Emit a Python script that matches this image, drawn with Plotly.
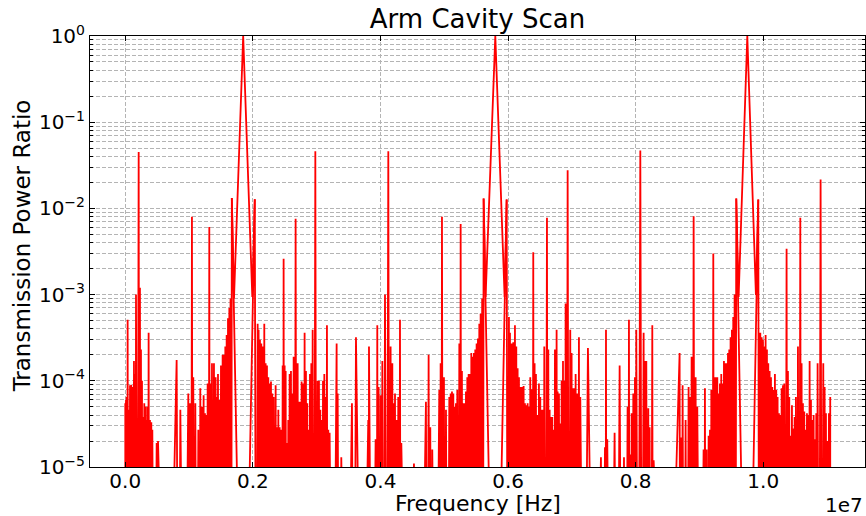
import plotly.graph_objects as go

# ---------------- data ----------------
# Frequencies in MHz, transmitted power ratio (linear)
freq_low_mhz = [
    0.000, 0.011, 0.021, 0.037, 0.053, 0.074, 0.095, 0.115, 0.136, 0.152, 0.168, 0.210,
    0.230, 0.246, 0.262, 0.283, 0.298, 0.314, 0.330, 0.345, 0.366, 0.387, 0.408, 0.424,
    0.492, 0.513,
    0.805, 0.863, 0.988, 1.014, 1.045, 1.066, 1.098, 1.145, 1.176, 1.202, 1.228, 1.249,
    1.270, 1.291, 1.317, 1.333, 1.359, 1.390, 1.416, 1.432, 1.453, 1.479, 1.500, 1.526,
    1.547, 1.568, 1.589, 1.610, 1.631, 1.650, 1.670,
    2.030, 2.075, 2.090, 2.111, 2.132, 2.153, 2.179, 2.200, 2.221, 2.242, 2.263, 2.284,
    2.305, 2.326, 2.357, 2.378, 2.399, 2.420, 2.440, 2.467, 2.482, 2.498, 2.514, 2.534,
    2.555, 2.576, 2.597, 2.618, 2.639, 2.670, 2.702, 2.723, 2.743, 2.764, 2.785, 2.811,
    2.832, 2.853, 2.874, 2.895, 2.916, 2.937, 2.979, 3.015, 3.036, 3.057, 3.078, 3.099,
    3.120, 3.141, 3.161, 3.182, 3.203, 3.313, 3.329, 3.386, 3.553, 3.616, 3.809, 3.820,
    3.924, 3.950, 3.971, 4.003, 4.029, 4.071, 4.123, 4.159, 4.186, 4.207, 4.228, 4.254,
    4.279, 4.306, 4.327,
]
power_low = [
    5.5e-5, 6.0e-5, 6.5e-5, 5.1e-4, 4.6e-5, 8.9e-5, 9.0e-5, 8.5e-5, 1.7e-4, 1.2e-4, 1.0e-3, 4.5e-2,
    1.2e-3, 2.3e-4, 1.0e-4, 3.8e-5, 5.5e-5, 5.0e-5, 3.5e-5, 5.0e-5, 3.6e-4, 3.5e-5, 3.3e-5, 2.7e-5,
    1.9e-5, 2.0e-5,
    1.74e-4, 4.6e-5, 7.1e-5, 5.5e-5, 8.0e-3, 1.1e-4, 5.5e-5, 2.7e-5, 8.2e-5, 5.0e-5, 6.8e-5, 4.2e-5,
    4.0e-5, 9.3e-5, 6.1e-3, 9.3e-5, 1.6e-4, 1.6e-4, 1.1e-4, 6.5e-5, 1.2e-4, 6.0e-5, 1.5e-4, 2.0e-4,
    2.0e-4, 2.5e-4, 3.4e-4, 5.3e-4, 7.0e-4, 9.0e-4, 1.32e-2,
    1.28e-2, 4.6e-4, 3.9e-4, 3.0e-4, 2.7e-4, 2.5e-4, 4.6e-4, 1.6e-4, 1.5e-4, 1.1e-4, 9.3e-5, 9.8e-5,
    7.1e-5, 6.5e-5, 8.9e-5, 2.9e-5, 4.6e-5, 2.9e-5, 2.7e-5, 1.5e-4, 2.6e-3, 1.5e-4, 1.3e-4, 1.9e-5,
    3.5e-5, 1.2e-4, 1.3e-4, 7.1e-5, 1.9e-4, 7.6e-3, 1.6e-4, 5.7e-5, 5.7e-5, 9.8e-5, 9.3e-5, 3.6e-4,
    1.3e-4, 5.5e-5, 2.7e-5, 1.2e-4, 1.6e-4, 3.9e-4, 4.6e-2, 1.0e-4, 1.0e-4, 4.6e-5, 3.5e-5, 1.0e-4,
    1.2e-4, 6.5e-5, 4.4e-4, 2.7e-5, 2.5e-5, 2.7e-4, 7.1e-5, 1.3e-5, 5.5e-5, 3.2e-4, 3.5e-5, 2.5e-4,
    2.1e-5, 4.4e-4, 8.5e-5, 6.8e-5, 1.7e-4, 1.0e-3, 4.6e-2, 2.5e-4, 1.6e-4, 5.5e-5, 7.1e-5, 3.5e-5,
    6.5e-5, 5.1e-4, 1.9e-5,
]

freq_mid_mhz = [
    4.525, 4.713, 4.755, 4.781, 4.812, 4.922, 4.943, 4.964, 4.995, 5.027, 5.079, 5.100,
    5.121, 5.142, 5.163, 5.183, 5.204, 5.236, 5.257, 5.277, 5.298, 5.319, 5.340, 5.361,
    5.382, 5.403, 5.424, 5.445, 5.465, 5.486, 5.507, 5.528, 5.549, 5.570, 5.594, 5.617,
    5.978, 6.014, 6.030, 6.056, 6.082, 6.108, 6.129, 6.150, 6.171, 6.192, 6.218, 6.244,
    6.265, 6.286, 6.307, 6.327, 6.348, 6.372, 6.395, 6.416, 6.437, 6.463, 6.484, 6.505,
    6.521, 6.542, 6.568, 6.610, 6.631, 6.652, 6.673, 6.693, 6.714, 6.735, 6.761, 6.777,
    6.798, 6.819, 6.840, 6.861, 6.881, 6.902, 6.934, 6.975, 6.996, 7.017, 7.038, 7.059,
    7.085, 7.111, 7.132, 7.252, 7.456, 7.519, 7.535, 7.555, 7.670, 7.749, 7.817, 7.874,
    7.895, 7.916, 7.937, 7.963, 7.989, 8.010, 8.073, 8.125, 8.146, 8.167, 8.198, 8.219,
    8.261, 8.282,
]
power_mid = [
    1.1e-5, 5.7e-5, 2.0e-4, 2.9e-5, 1.6e-5, 7.8e-5, 1.6e-4, 8.0e-3, 1.1e-4, 4.6e-5, 6.5e-5, 7.1e-5,
    7.5e-5, 7.1e-5, 5.0e-5, 5.5e-5, 7.8e-5, 2.7e-4, 6.6e-3, 1.3e-4, 5.5e-5, 5.5e-5, 7.5e-5, 1.1e-4,
    1.2e-4, 1.2e-4, 2.1e-4, 1.9e-4, 2.1e-4, 2.3e-4, 2.7e-4, 3.1e-4, 4.6e-4, 6.0e-4, 9.0e-4, 1.30e-2,
    1.27e-2, 5.5e-4, 3.6e-4, 2.7e-4, 2.8e-4, 4.4e-4, 2.5e-4, 1.4e-4, 1.1e-4, 8.5e-5, 8.5e-5, 8.7e-5,
    5.5e-5, 5.2e-5, 5.5e-5, 5.0e-5, 1.1e-4, 8.0e-5, 3.1e-3, 1.6e-4, 1.2e-4, 4.0e-5, 9.3e-5, 6.5e-5,
    4.6e-5, 4.6e-5, 2.5e-4, 7.8e-3, 2.3e-4, 4.6e-5, 3.8e-5, 3.8e-5, 2.7e-5, 2.3e-4, 3.9e-4, 7.5e-5,
    7.1e-5, 3.2e-5, 1.0e-4, 1.7e-4, 1.0e-4, 7.9e-4, 2.77e-2, 3.9e-4, 2.1e-4, 8.2e-5, 8.2e-5, 1.2e-4,
    7.1e-5, 3.2e-4, 6.5e-5, 2.4e-4, 1.3e-5, 1.7e-5, 3.9e-4, 2.1e-5, 2.5e-5, 1.5e-4, 1.3e-5, 5.0e-5,
    5.1e-4, 1.4e-5, 4.2e-5, 7.1e-5, 1.1e-4, 3.9e-4, 4.7e-2, 3.6e-4, 1.7e-4, 1.7e-4, 4.8e-5, 2.9e-5,
    4.4e-4, 1.2e-5,
]

freq_high_mhz = [
    8.689, 8.710, 8.736, 8.783, 8.830, 8.851, 8.877, 8.909, 8.940, 8.966, 9.065, 9.086,
    9.112, 9.144, 9.165, 9.186, 9.217, 9.238, 9.259, 9.280, 9.301, 9.321, 9.342, 9.363,
    9.384, 9.405, 9.426, 9.447, 9.467, 9.488, 9.509, 9.530, 9.551, 9.577,
    9.922, 9.954, 9.975, 9.995, 10.016, 10.037, 10.058, 10.079, 10.100, 10.121, 10.142, 10.163,
    10.183, 10.204, 10.225, 10.246, 10.267, 10.288, 10.309, 10.330, 10.366, 10.387, 10.408, 10.429,
    10.450, 10.471, 10.492, 10.512, 10.544, 10.581, 10.601, 10.622, 10.643, 10.664, 10.685, 10.706,
    10.727, 10.748, 10.769, 10.790, 10.810, 10.831, 10.852, 10.899, 10.941, 10.962, 10.983, 11.003,
    11.030, 11.050,
]
power_high = [
    2.1e-4, 2.2e-5, 8.9e-5, 3.5e-5, 8.5e-5, 6.5e-5, 1.9e-4, 8.1e-3, 1.1e-4, 5.0e-5, 1.6e-5, 8.2e-5,
    1.6e-5, 2.3e-5, 2.7e-5, 7.8e-5, 3.0e-3, 1.1e-4, 1.1e-4, 1.1e-4, 7.1e-5, 9.3e-5, 1.2e-4, 9.3e-5,
    1.7e-4, 1.6e-4, 1.6e-4, 2.1e-4, 2.3e-4, 3.2e-4, 3.9e-4, 5.5e-4, 1.0e-3, 1.30e-2,
    1.27e-2, 3.6e-4, 3.2e-4, 3.0e-4, 2.5e-4, 3.4e-4, 2.3e-4, 1.6e-4, 1.3e-4, 1.1e-4, 8.5e-5, 7.8e-5,
    1.2e-4, 7.8e-5, 6.5e-5, 4.2e-5, 4.0e-5, 8.2e-5, 8.9e-5, 9.3e-5, 3.4e-3, 1.3e-4, 6.5e-5, 2.3e-5,
    5.2e-5, 2.8e-5, 3.8e-5, 6.5e-5, 2.5e-4, 7.8e-3, 1.6e-4, 5.5e-5, 4.4e-5, 2.7e-5, 4.2e-5, 4.0e-5,
    1.7e-4, 6.0e-5, 3.5e-5, 4.0e-5, 2.1e-5, 4.2e-5, 1.6e-4, 2.16e-2, 1.6e-4, 8.5e-5, 4.2e-5, 2.0e-5,
    4.2e-5, 6.5e-5,
]

# carrier resonances: sideband top, notch, carrier peak, notch, sideband top
res1_freq_mhz = [1.670, 1.704, 1.848, 1.991, 2.030]
res1_power = [1.32e-2, 9.0e-4, 1.0, 9.4e-4, 1.28e-2]
res2_freq_mhz = [5.617, 5.648, 5.800, 5.946, 5.978]
res2_power = [1.30e-2, 9.4e-4, 1.0, 9.4e-4, 1.27e-2]
res3_freq_mhz = [9.577, 9.614, 9.750, 9.885, 9.922]
res3_power = [1.30e-2, 9.4e-4, 1.0, 9.9e-4, 1.27e-2]

x_tick_vals_hz = [0, 2e6, 4e6, 6e6, 8e6, 10e6]
x_tick_text = ["0.0", "0.2", "0.4", "0.6", "0.8", "1.0"]
y_tick_vals = [1e-5, 1e-4, 1e-3, 1e-2, 1e-1, 1e0]
y_tick_text = ["10<sup>\u22125</sup>", "10<sup>\u22124</sup>", "10<sup>\u22123</sup>",
               "10<sup>\u22122</sup>", "10<sup>\u22121</sup>", "10<sup>0</sup>"]

# ---------------- build the sampled trace ----------------
FLOOR = 1e-9  # far below the visible range: the trace dips off-chart between samples

spikes = sorted(zip(freq_low_mhz + freq_mid_mhz + freq_high_mhz,
                    power_low + power_mid + power_high))
xs, ys = [spikes[0][0] * 1e6], [FLOOR]
prev = None
for f, p in spikes:
    if prev is not None:
        xs.append((prev + f) / 2 * 1e6)
        ys.append(FLOOR)
    xs.append(f * 1e6)
    ys.append(p)
    prev = f
xs.append(prev * 1e6)
ys.append(FLOOR)

for rf, rp in ((res1_freq_mhz, res1_power), (res2_freq_mhz, res2_power), (res3_freq_mhz, res3_power)):
    xs.append(None)
    ys.append(None)
    xs.extend([f * 1e6 for f in rf])
    ys.extend(rp)

fig = go.Figure()
fig.add_trace(go.Scatter(
    x=xs, y=ys, mode="lines",
    line=dict(color="#ff0000", width=1.8, simplify=False),
    connectgaps=False, hoverinfo="skip", showlegend=False,
))

FONT = "DejaVu Sans, Verdana, sans-serif"
GRID = "#b4b4b4"
minor_y = [m * 10.0 ** e for e in range(-5, 0) for m in range(2, 10)]

fig.update_layout(
    width=866, height=516,
    margin=dict(l=90, r=1, t=36, b=49, autoexpand=False),
    paper_bgcolor="white", plot_bgcolor="white",
    font=dict(family=FONT, color="black", size=20),
    title=dict(text="Arm Cavity Scan", x=0.5, xref="paper", xanchor="center",
               y=1 - 19 / 516, yref="container", yanchor="middle",
               font=dict(family=FONT, size=26, color="black")),
    showlegend=False,
)

fig.update_xaxes(
    range=[-0.553e6, 11.595e6], automargin=False,
    tickmode="array", tickvals=x_tick_vals_hz, ticktext=x_tick_text,
    tickfont=dict(size=20, family=FONT, color="black"), ticklabelstandoff=-4,
    ticks="inside", ticklen=5, tickwidth=1, tickcolor="black",
    showline=True, linecolor="black", linewidth=1, mirror="allticks",
    showgrid=True, gridcolor=GRID, gridwidth=1, griddash="4px,2px",
    zeroline=False,
)
fig.update_yaxes(
    type="log", range=[-5, 0], automargin=False,
    tickmode="array", tickvals=y_tick_vals, ticktext=y_tick_text,
    tickfont=dict(size=20, family=FONT, color="black"),
    ticks="inside", ticklen=5, tickwidth=1, tickcolor="black",
    showline=True, linecolor="black", linewidth=1, mirror="allticks",
    showgrid=True, gridcolor=GRID, gridwidth=1, griddash="4px,2px",
    minor=dict(tickmode="array", tickvals=minor_y, ticks="inside", ticklen=3,
               tickcolor="black", showgrid=True, gridcolor=GRID, gridwidth=1,
               griddash="4px,2px"),
    zeroline=False,
)

# axis titles and the offset label placed as annotations for exact positioning
fig.add_annotation(
    text="Frequency [Hz]", xref="paper", yref="paper", x=0.5, y=-0.085,
    xanchor="center", yanchor="middle", showarrow=False,
    font=dict(size=22, family=FONT, color="black"),
)
fig.add_annotation(
    text="Transmission Power Ratio", xref="paper", yref="paper", x=-0.0877, y=0.512,
    xanchor="center", yanchor="middle", textangle=-90, showarrow=False,
    font=dict(size=23, family=FONT, color="black"),
)
fig.add_annotation(
    text="1e7", xref="paper", yref="paper", x=1.0, y=-0.055,
    xanchor="right", yanchor="top", showarrow=False,
    font=dict(size=20, family=FONT, color="black"),
)

fig.write_html(
    "out.html",
    config={"displayModeBar": False},
    post_script="document.body.style.margin='0';document.body.style.overflow='hidden';",
)
